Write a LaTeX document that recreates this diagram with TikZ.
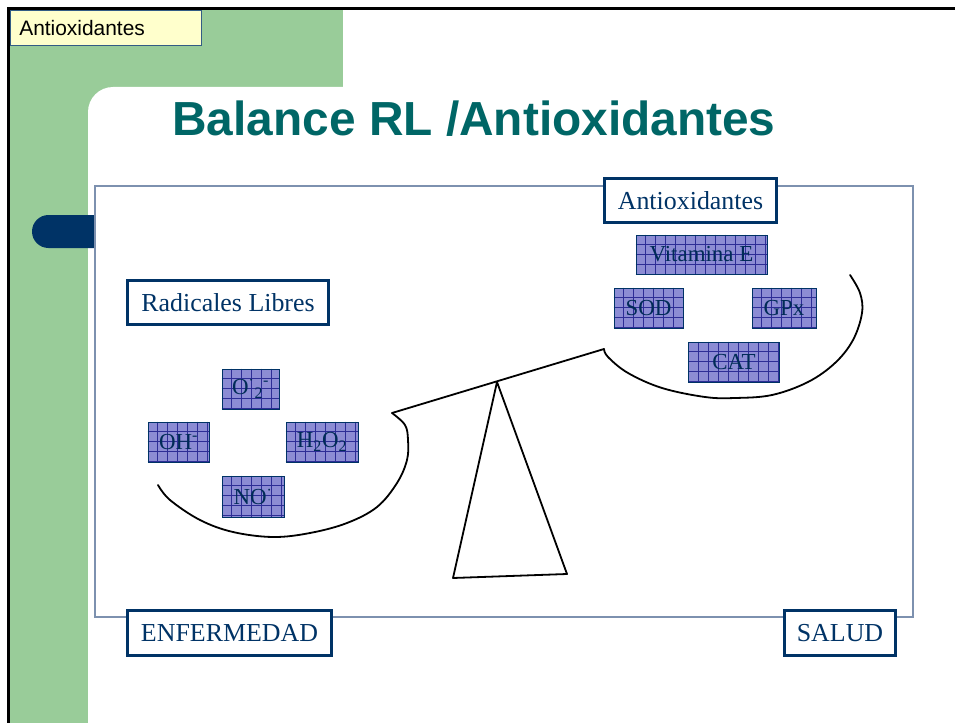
\documentclass[tikz,border=0pt]{standalone}
\usepackage{fontspec}
\setmainfont{Liberation Serif}
\newfontfamily\arialfont{Liberation Sans}
\usetikzlibrary{backgrounds}

\definecolor{navy}{RGB}{0,51,102}
\definecolor{slidegreen}{RGB}{153,204,153}
\definecolor{titleteal}{RGB}{0,102,102}
\definecolor{tagyellow}{RGB}{255,255,204}
\definecolor{framegray}{RGB}{125,145,175}
\definecolor{hatchblue}{RGB}{140,140,212}
\definecolor{gridblue}{RGB}{45,45,150}

\begin{document}
\begin{tikzpicture}[x=1bp,y=-1bp,
    framebox/.style={draw=navy,line width=3bp,fill=white,inner sep=0pt,
        text=navy,font=\fontsize{26}{30}\selectfont},
    gridline/.style={gridblue,line width=0.6bp},
    specie/.style={draw=navy,line width=0.8bp,inner sep=0pt,
        text=navy!85!black,font=\fontsize{23}{26}\selectfont},
    scaleline/.style={line width=1.8bp,line join=round,line cap=round}]

% Slide background
\useasboundingbox (0,0) rectangle (955,723);
\begin{scope}[on background layer]
\fill[white] (0,0) rectangle (955,723);
\fill[slidegreen] (10,10) rectangle (343,723);
\fill[white] (88,723) -- (88,112) arc[start angle=180,end angle=270,radius=25]
    -- (955,87) -- (955,723) -- cycle;
\fill[navy] (95,215) -- (48.5,215) arc[start angle=270,end angle=90,radius=16.5]
    -- (95,248) -- cycle;
\end{scope}
\draw[line width=3bp] (8.5,723) -- (8.5,8.5) -- (955,8.5);

% Header
\node[draw=navy!80,line width=0.6bp,fill=tagyellow,anchor=north west,
    minimum height=35bp,text width=173bp,inner xsep=9bp,align=left,
    font=\arialfont\fontsize{21}{24}\selectfont] (tag) at (10,10) {Antioxidantes};
\node[anchor=base,text=titleteal,font=\arialfont\bfseries\fontsize{48}{54}\selectfont]
    (title) at (474,136) {Balance RL /Antioxidantes};

% Content frame
\draw[framegray,line width=1.2bp] (95,186) rectangle (913,617);

% Scale
\coordinate (beamL) at (392,413);
\coordinate (beamR) at (604,349);
\coordinate (pivot) at (497,382);
\draw[scaleline] (beamL) -- (beamR);
\draw[scaleline] (pivot) -- (453,578) -- (567,574) -- cycle;
\draw[scaleline] plot[smooth,tension=0.6] coordinates {(392,413) (405,425) (408,440)
    (407,460) (397,483) (377,507) (347,523) (310,533) (273,537) (233,532)
    (200,520) (170,500) (158,485)};
\draw[scaleline] plot[smooth,tension=0.6] coordinates {(604,349) (608,357) (628,373)
    (662,388) (705,397) (735,398) (772,395) (808,382) (835,363) (853,340)
    (862,313) (860,293) (850,275)};

% Labels
\node[framebox,minimum width=172bp,minimum height=44bp] (antiox) at (690.5,200.5) {Antioxidantes};
\node[framebox,minimum width=201bp,minimum height=44bp] (radic) at (228,302.5) {Radicales Libres};
\node[framebox,minimum width=204bp,minimum height=45bp] (enfermedad) at (229.5,633) {ENFERMEDAD};
\node[framebox,minimum width=111bp,minimum height=45bp] (salud) at (840,633) {SALUD};

% Antioxidants
\node[specie,minimum width=131bp,minimum height=39bp] (vitE) at (701.5,254.5) {Vitamina E};
\node[specie,minimum width=69bp,minimum height=40bp] (sod) at (648.5,308) {SOD};
\node[specie,minimum width=64bp,minimum height=40bp] (gpx) at (784,308) {GPx};
\node[specie,minimum width=91bp,minimum height=40bp] (cat) at (734,362) {CAT};

% Free radicals
\node[specie,minimum width=57bp,minimum height=40bp] (superox) at (250.5,389)
    {O\textsuperscript{·}\textsubscript{2}\textsuperscript{-}};
\node[specie,minimum width=61bp,minimum height=40bp] (hydroxyl) at (178.5,442) {OH\textsuperscript{-}};
\node[specie,minimum width=72bp,minimum height=40bp] (peroxide) at (322,442)
    {H\textsubscript{2}O\textsubscript{2}};
\node[specie,minimum width=62bp,minimum height=41bp] (nitric) at (253,496.5) {NO\textsuperscript{·}};

% Hatching behind the species
\begin{scope}[on background layer]
\foreach \n in {vitE,sod,gpx,cat,superox,hydroxyl,peroxide,nitric}{
    \begin{scope}
    \fill[hatchblue] (\n.north west) rectangle (\n.south east);
    \clip (\n.north west) rectangle (\n.south east);
    \foreach \k in {1,...,14}{
        \draw[gridline] (\n.north west) ++(\k*10,0) -- ++(0,50);
        \draw[gridline] (\n.north west) ++(0,\k*10) -- ++(140,0);
    }
    \end{scope}
}
\end{scope}

\end{tikzpicture}
\end{document}
